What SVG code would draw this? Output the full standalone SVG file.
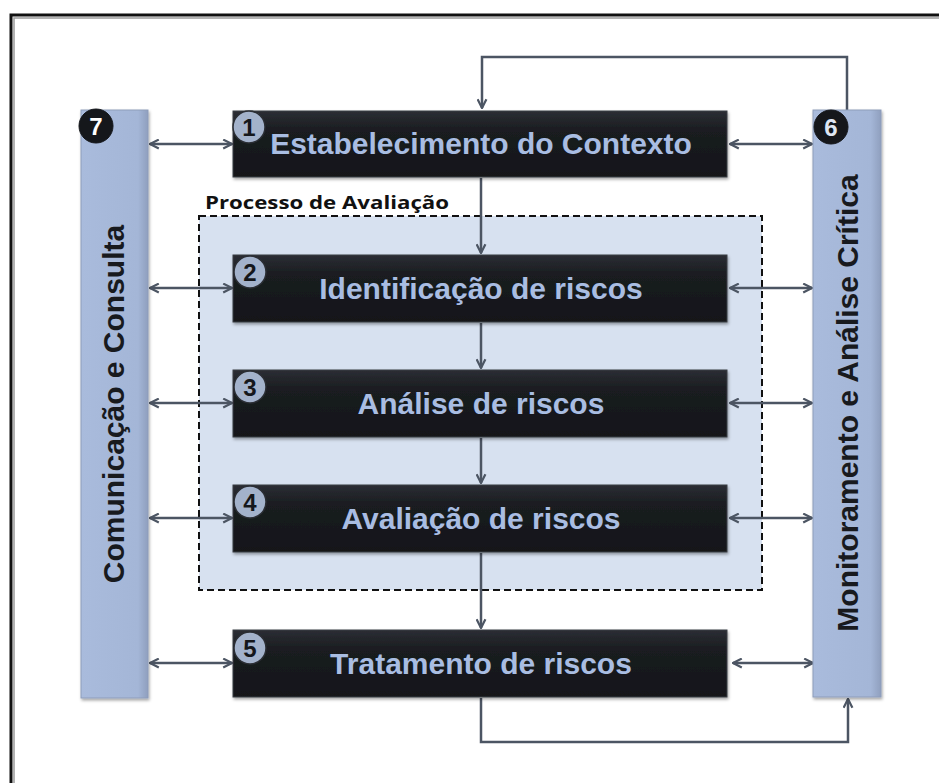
<svg xmlns="http://www.w3.org/2000/svg" width="939" height="783" viewBox="0 0 939 783">
  <style>
    .box { fill: url(#boxGrad); stroke: #3a3d44; stroke-width: 1; filter: url(#shadow); }
    .bar { fill: url(#barGrad); stroke: #8e9dba; stroke-width: 1; filter: url(#shadow); }
    .boxText { font-family: "Liberation Sans", Arial, sans-serif; font-weight: bold; font-size: 30px; fill: #a9bde2; text-anchor: middle; }
    .barText { font-family: "Liberation Sans", Arial, sans-serif; font-weight: bold; font-size: 30px; fill: #181a1e; text-anchor: middle; }
    .badgeLight { fill: #a3b2cb; stroke: #2a2d33; stroke-width: 1.5; }
    .badgeDark { fill: #15171b; stroke: #15171b; stroke-width: 1; }
    .badgeNum { font-family: "Liberation Sans", Arial, sans-serif; font-weight: bold; font-size: 24px; text-anchor: middle; }
    .conn { fill: none; stroke: #4c5563; stroke-width: 2.5; }
  </style>
  <defs>
    <linearGradient id="boxGrad" x1="0" y1="0" x2="0" y2="1">
      <stop offset="0" stop-color="#2b2e34"/>
      <stop offset="0.3" stop-color="#1a1c20"/>
      <stop offset="1" stop-color="#141619"/>
    </linearGradient>
    <linearGradient id="barGrad" x1="0" y1="0" x2="1" y2="0">
      <stop offset="0" stop-color="#a9bbdc"/>
      <stop offset="0.85" stop-color="#a4b6d7"/>
      <stop offset="1" stop-color="#8f9fbe"/>
    </linearGradient>
    <filter id="shadow" x="-10%" y="-10%" width="120%" height="130%">
      <feDropShadow dx="1" dy="2" stdDeviation="1.5" flood-color="#000" flood-opacity="0.35"/>
    </filter>
    <marker id="arr" viewBox="0 0 10 10" refX="9" refY="5" markerWidth="11" markerHeight="11" markerUnits="userSpaceOnUse" orient="auto-start-reverse">
      <path d="M1,1 L9,5 L1,9" fill="none" stroke="#4c5563" stroke-width="2"/>
    </marker>
  </defs>

  <rect x="0" y="0" width="939" height="783" fill="#ffffff"/>
  <!-- outer frame -->
  <rect x="11" y="15" width="960" height="800" fill="none" stroke="#111111" stroke-width="3"/>
  <rect x="14" y="18" width="955" height="795" fill="none" stroke="#9a9a9a" stroke-width="1.5"/>

  <!-- Processo de Avaliação region -->
  <g id="processo-avaliacao">
    <rect x="199" y="216" width="563" height="374" fill="#d7e1f0" stroke="#111111" stroke-width="2" stroke-dasharray="7,4"/>
    <text x="205" y="209" font-family="'Open Sans', 'Noto Sans', sans-serif" font-weight="bold" font-size="18" fill="#111111" textLength="244" lengthAdjust="spacingAndGlyphs">Processo de Avaliação</text>
  </g>

  <!-- Connectors -->
  <g id="connectors">
    <line class="conn" x1="150" y1="144" x2="232" y2="144" marker-start="url(#arr)" marker-end="url(#arr)"/>
    <line class="conn" x1="150" y1="288" x2="232" y2="288" marker-start="url(#arr)" marker-end="url(#arr)"/>
    <line class="conn" x1="150" y1="403" x2="232" y2="403" marker-start="url(#arr)" marker-end="url(#arr)"/>
    <line class="conn" x1="150" y1="518" x2="232" y2="518" marker-start="url(#arr)" marker-end="url(#arr)"/>
    <line class="conn" x1="150" y1="663" x2="232" y2="663" marker-start="url(#arr)" marker-end="url(#arr)"/>

    <line class="conn" x1="730" y1="144" x2="812" y2="144" marker-start="url(#arr)" marker-end="url(#arr)"/>
    <line class="conn" x1="730" y1="288" x2="812" y2="288" marker-start="url(#arr)" marker-end="url(#arr)"/>
    <line class="conn" x1="730" y1="403" x2="812" y2="403" marker-start="url(#arr)" marker-end="url(#arr)"/>
    <line class="conn" x1="730" y1="518" x2="812" y2="518" marker-start="url(#arr)" marker-end="url(#arr)"/>
    <line class="conn" x1="733" y1="663" x2="813" y2="663" marker-start="url(#arr)" marker-end="url(#arr)"/>

    <line class="conn" x1="481" y1="178" x2="481" y2="253" marker-end="url(#arr)"/>
    <line class="conn" x1="481" y1="323" x2="481" y2="368" marker-end="url(#arr)"/>
    <line class="conn" x1="481" y1="438" x2="481" y2="483" marker-end="url(#arr)"/>
    <line class="conn" x1="481" y1="553" x2="481" y2="628" marker-end="url(#arr)"/>

    <polyline class="conn" points="847,110 847,57 482,57 482,108" marker-end="url(#arr)"/>
    <polyline class="conn" points="481,698 481,742 848,742 848,699" marker-end="url(#arr)"/>
  </g>

  <!-- 7 Comunicação e Consulta -->
  <g id="node7">
    <rect class="bar" x="81" y="110" width="67" height="588"/>
    <text class="barText" transform="translate(124,404) rotate(-90)">Comunicação e Consulta</text>
    <circle class="badgeDark" cx="96" cy="126" r="17"/>
    <text class="badgeNum" x="96" y="134.5" fill="#ffffff">7</text>
  </g>

  <!-- 6 Monitoramento e Análise Crítica -->
  <g id="node6">
    <rect class="bar" x="813" y="110" width="68" height="587"/>
    <text class="barText" transform="translate(858,403) rotate(-90)">Monitoramento e Análise Crítica</text>
    <circle class="badgeDark" cx="831" cy="127" r="17"/>
    <text class="badgeNum" x="831" y="135.5" fill="#dfe6f2">6</text>
  </g>

  <!-- 1 -->
  <g id="node1">
    <rect class="box" x="233" y="111" width="494" height="66"/>
    <text class="boxText" x="481" y="154">Estabelecimento do Contexto</text>
    <circle class="badgeLight" cx="249" cy="127" r="16"/>
    <text class="badgeNum" x="249" y="135.5" fill="#15171b">1</text>
  </g>

  <!-- 2 -->
  <g id="node2">
    <rect class="box" x="233" y="255" width="494" height="67"/>
    <text class="boxText" x="481" y="299">Identificação de riscos</text>
    <circle class="badgeLight" cx="250" cy="272" r="16"/>
    <text class="badgeNum" x="250" y="280.5" fill="#15171b">2</text>
  </g>

  <!-- 3 -->
  <g id="node3">
    <rect class="box" x="233" y="370" width="494" height="67"/>
    <text class="boxText" x="481" y="414">Análise de riscos</text>
    <circle class="badgeLight" cx="250" cy="387" r="16"/>
    <text class="badgeNum" x="250" y="395.5" fill="#15171b">3</text>
  </g>

  <!-- 4 -->
  <g id="node4">
    <rect class="box" x="233" y="485" width="494" height="67"/>
    <text class="boxText" x="481" y="529">Avaliação de riscos</text>
    <circle class="badgeLight" cx="250" cy="502" r="16"/>
    <text class="badgeNum" x="250" y="510.5" fill="#15171b">4</text>
  </g>

  <!-- 5 -->
  <g id="node5">
    <rect class="box" x="233" y="630" width="494" height="67"/>
    <text class="boxText" x="481" y="674">Tratamento de riscos</text>
    <circle class="badgeLight" cx="250" cy="648" r="16"/>
    <text class="badgeNum" x="250" y="656.5" fill="#15171b">5</text>
  </g>
</svg>
